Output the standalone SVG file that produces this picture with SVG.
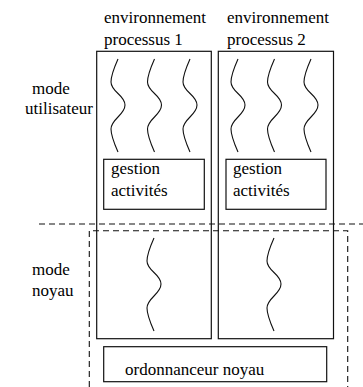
<svg xmlns="http://www.w3.org/2000/svg" width="363" height="387" viewBox="0 0 363 387">
<style>
.box{fill:none;stroke:#111;stroke-width:1.2}
.dash{fill:none;stroke:#111;stroke-width:1.1;stroke-dasharray:6 4}
.wave{fill:none;stroke:#111;stroke-width:1.1}
</style>
<rect width="363" height="387" fill="#fff"/>
<g id="labels">
<text x="104" y="23" font-family="Liberation Serif" font-size="17">environnement</text>
<text x="104" y="45" font-family="Liberation Serif" font-size="17">processus 1</text>
<text x="227" y="23" font-family="Liberation Serif" font-size="17">environnement</text>
<text x="227" y="45" font-family="Liberation Serif" font-size="17">processus 2</text>
<text x="32" y="94" font-family="Liberation Serif" font-size="17">mode</text>
<text x="25" y="114" font-family="Liberation Serif" font-size="17">utilisateur</text>
<text x="32" y="275" font-family="Liberation Serif" font-size="17">mode</text>
<text x="32" y="296" font-family="Liberation Serif" font-size="17">noyau</text>
</g>
<g id="separators">
<line class="dash" x1="39" y1="224" x2="363" y2="224"/>
<path class="dash" d="M89.3,387 V230.7 H347.7 V387"/>
</g>
<g id="env1">
<rect class="box" x="96.7" y="51.3" width="114.6" height="287.4"/>
<path class="wave" transform="translate(118,59)" d="M0,0 C-4,9 -7,16 -7,23 C-7,33 7,36 7,46 C7,56 -7,60 -7,70 C-7,77 -4,84 0,93"/>
<path class="wave" transform="translate(154.5,59)" d="M0,0 C-4,9 -7,16 -7,23 C-7,33 7,36 7,46 C7,56 -7,60 -7,70 C-7,77 -4,84 0,93"/>
<path class="wave" transform="translate(190,59)" d="M0,0 C-4,9 -7,16 -7,23 C-7,33 7,36 7,46 C7,56 -7,60 -7,70 C-7,77 -4,84 0,93"/>
<path class="wave" transform="translate(154,238)" d="M0,0 C-4,9 -7,16 -7,23 C-7,33 7,36 7,46 C7,56 -7,60 -7,70 C-7,77 -4,84 0,93"/>
</g>
<g id="env2">
<rect class="box" x="218.3" y="51.3" width="115.2" height="287.4"/>
<path class="wave" transform="translate(238,59)" d="M0,0 C-4,9 -7,16 -7,23 C-7,33 7,36 7,46 C7,56 -7,60 -7,70 C-7,77 -4,84 0,93"/>
<path class="wave" transform="translate(274.5,59)" d="M0,0 C-4,9 -7,16 -7,23 C-7,33 7,36 7,46 C7,56 -7,60 -7,70 C-7,77 -4,84 0,93"/>
<path class="wave" transform="translate(311,59)" d="M0,0 C-4,9 -7,16 -7,23 C-7,33 7,36 7,46 C7,56 -7,60 -7,70 C-7,77 -4,84 0,93"/>
<path class="wave" transform="translate(274,238)" d="M0,0 C-4,9 -7,16 -7,23 C-7,33 7,36 7,46 C7,56 -7,60 -7,70 C-7,77 -4,84 0,93"/>
</g>
<g id="gestion1">
<rect class="box" x="103.7" y="159.3" width="100.6" height="50"/>
<text x="111" y="174" font-family="Liberation Serif" font-size="17">gestion</text>
<text x="111" y="196" font-family="Liberation Serif" font-size="17">activités</text>
</g>
<g id="gestion2">
<rect class="box" x="226" y="159.3" width="100" height="50"/>
<text x="233" y="174" font-family="Liberation Serif" font-size="17">gestion</text>
<text x="233" y="196" font-family="Liberation Serif" font-size="17">activités</text>
</g>
<g id="ordonnanceur">
<rect class="box" x="103.7" y="346.7" width="223" height="35"/>
<text x="125" y="375" font-family="Liberation Serif" font-size="17">ordonnanceur noyau</text>
</g>
<g id="connectors"/>
</svg>
